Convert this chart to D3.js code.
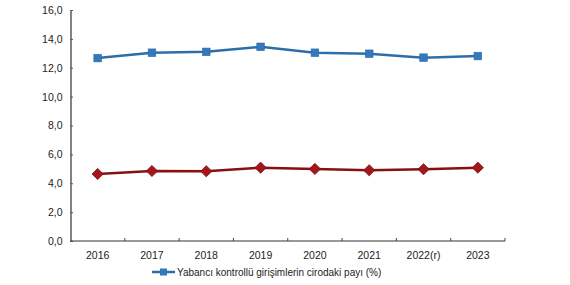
<!DOCTYPE html>
<meta charset="utf-8">
<style>
  body { margin: 0; background: #fff; }
  text { font-family: "Liberation Sans", Arial, sans-serif; fill: #222; }
</style>
<body>
<script src="https://d3js.org/d3.v7.min.js"></script>
<script>
  // data
  let years = ["2016", "2017", "2018", "2019", "2020", "2021", "2022(r)", "2023"];
  let blueValues = [12.67, 13.04, 13.1, 13.45, 13.04, 12.97, 12.7, 12.81];
  let redValues = [4.64, 4.85, 4.83, 5.08, 4.99, 4.9, 4.97, 5.08];
  let yTicks = [0, 2, 4, 6, 8, 10, 12, 14, 16];
  let legendLabel = "Yabancı kontrollü girişimlerin cirodaki payı (%)";

  let width = 570, height = 285;
  let margin = {left: 70.5, right: 65, top: 10, bottom: 44};

  let svg = d3.select("body").append("svg")
      .attr("width", width)
      .attr("height", height);

  let x = d3.scaleBand()
      .domain(years)
      .range([margin.left, width - margin.right]);

  let y = d3.scaleLinear()
      .domain([0, 16])
      .range([height - margin.bottom, margin.top]);

  let fmt = d => d.toFixed(1).replace(".", ",");

  // y axis
  let yAxis = svg.append("g")
      .attr("transform", "translate(" + margin.left + ",0)")
      .call(d3.axisLeft(y).tickValues(yTicks).tickFormat(fmt).tickSize(-2.5).tickPadding(8));
  yAxis.select(".domain").attr("stroke", "#333").attr("stroke-width", 1.2);
  yAxis.selectAll(".tick line").attr("stroke", "#555");
  yAxis.selectAll("text").style("font-size", "10.5px").attr("fill", "#222");

  // x axis, ticks between categories
  let xAxis = svg.append("g")
      .attr("transform", "translate(0," + (height - margin.bottom) + ")");
  xAxis.append("line")
      .attr("x1", margin.left).attr("x2", width - margin.right)
      .attr("stroke", "#333").attr("stroke-width", 1.2);
  xAxis.selectAll(".sep")
      .data(years.slice(1).concat(["end"]))
      .join("line")
      .attr("x1", (d, i) => i < years.length - 1 ? x(d) : width - margin.right)
      .attr("x2", (d, i) => i < years.length - 1 ? x(d) : width - margin.right)
      .attr("y1", 0).attr("y2", -3)
      .attr("stroke", "#444");
  xAxis.selectAll(".lbl")
      .data(years)
      .join("text")
      .attr("x", d => x(d) + x.bandwidth() / 2)
      .attr("y", 18)
      .attr("text-anchor", "middle")
      .style("font-size", "10.5px")
      .text(d => d);

  let cx = (d, i) => x(years[i]) + x.bandwidth() / 2;
  let line = d3.line().x(cx).y(d => y(d));

  // red series
  svg.append("path")
      .datum(redValues)
      .attr("d", line)
      .attr("fill", "none")
      .attr("stroke", "#861014")
      .attr("stroke-width", 2.5);
  svg.selectAll(".red")
      .data(redValues)
      .join("path")
      .attr("transform", (d, i) => "translate(" + cx(d, i) + "," + y(d) + ")")
      .attr("d", d3.symbol(d3.symbolDiamond2, 80))
      .attr("fill", "#a3161c")
      .attr("stroke", "#7a0f12")
      .attr("stroke-width", 0.8);

  // blue series
  svg.append("path")
      .datum(blueValues)
      .attr("d", line)
      .attr("fill", "none")
      .attr("stroke", "#2e6ea8")
      .attr("stroke-width", 2.5);
  svg.selectAll(".blue")
      .data(blueValues)
      .join("rect")
      .attr("x", (d, i) => cx(d, i) - 3.8)
      .attr("y", d => y(d) - 3.8)
      .attr("width", 7.6)
      .attr("height", 7.6)
      .attr("fill", "#3479be")
      .attr("stroke", "#2a69a6")
      .attr("stroke-width", 0.6);

  // legend
  let lg = svg.append("g").attr("transform", "translate(152,272)");
  lg.append("line")
      .attr("x1", 0).attr("x2", 23)
      .attr("stroke", "#2e6ea8").attr("stroke-width", 2.5);
  lg.append("rect")
      .attr("x", 11.5 - 3.5).attr("y", -3.5)
      .attr("width", 7).attr("height", 7)
      .attr("fill", "#3479be");
  lg.append("text")
      .attr("x", 25).attr("y", 3.5)
      .style("font-size", "10px")
      .text(legendLabel);
</script>
</body>
